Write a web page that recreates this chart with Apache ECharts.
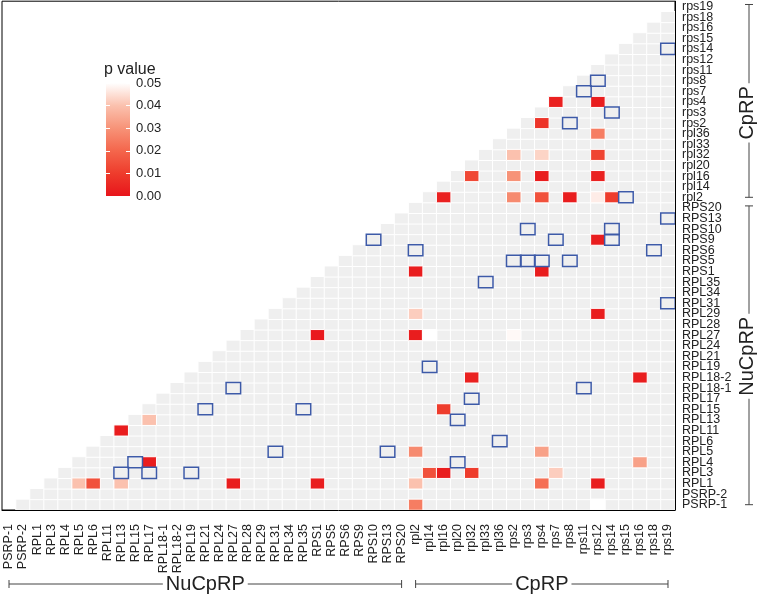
<!DOCTYPE html>
<html><head><meta charset="utf-8">
<script src="https://cdn.jsdelivr.net/npm/echarts@6/dist/echarts.min.js"></script>
<style>html,body{margin:0;padding:0;background:#fff}#c{width:758px;height:594px}</style>
</head><body><div id="c"></div><script>
const FONT = 'Liberation Sans, Arial, sans-serif';
const nuCpRP = ['PSRP-1','PSRP-2','RPL1','RPL3','RPL4','RPL5','RPL6','RPL11','RPL13','RPL15','RPL17','RPL18-1','RPL18-2','RPL19','RPL21','RPL24','RPL27','RPL28','RPL29','RPL31','RPL34','RPL35','RPS1','RPS5','RPS6','RPS9','RPS10','RPS13','RPS20'];
const cpRP = ['rpl2','rpl14','rpl16','rpl20','rpl32','rpl33','rpl36','rps2','rps3','rps4','rps7','rps8','rps11','rps12','rps14','rps15','rps16','rps18','rps19'];
const categories = nuCpRP.concat(cpRP);

// significant pairs: [column, row, p value]
const pValues = [
  ['rps7','rps4',0.003],['rps12','rps4',0.002],
  ['rps4','rps2',0.008],
  ['rps12','rpl36',0.025],
  ['rps2','rpl32',0.040],['rps4','rpl32',0.043],['rps12','rpl32',0.012],
  ['rpl32','rpl16',0.013],['rps2','rpl16',0.030],['rps4','rpl16',0.002],['rps12','rpl16',0.003],
  ['rpl16','rpl2',0.003],['rps2','rpl2',0.028],['rps4','rpl2',0.015],['rps8','rpl2',0.002],['rps12','rpl2',0.047],['rps14','rpl2',0.010],
  ['rps12','RPS9',0.002],
  ['rpl2','RPS1',0.002],['rps4','RPS1',0.002],
  ['rpl2','RPL29',0.042],['rps12','RPL29',0.002],
  ['RPS1','RPL27',0.001],['rpl2','RPL27',0.002],['rpl14','RPL27',0.050],['rps2','RPL27',0.049],
  ['rpl32','RPL18-2',0.003],['rps16','RPL18-2',0.002],
  ['rpl16','RPL15',0.010],
  ['RPL17','RPL13',0.040],
  ['RPL13','RPL11',0.002],
  ['rpl2','RPL5',0.028],['rps4','RPL5',0.033],
  ['RPL17','RPL4',0.002],['rps16','RPL4',0.033],
  ['rpl14','RPL3',0.015],['rpl16','RPL3',0.002],['rpl32','RPL3',0.010],['rps7','RPL3',0.042],
  ['RPL5','RPL1',0.040],['RPL6','RPL1',0.015],['RPL13','RPL1',0.040],['RPL27','RPL1',0.002],['RPS1','RPL1',0.002],['rpl2','RPL1',0.040],['rps4','RPL1',0.022],['rps12','RPL1',0.002],
  ['rpl2','PSRP-1',0.025],['rps12','PSRP-1',0.050]
];

// outlined pairs: [column, row]
const blueBoxes = [
  ['rps19','rps14'],['rps12','rps8'],['rps11','rps7'],['rps14','rps3'],['rps8','rps2'],['rps15','rpl2'],
  ['rps19','RPS13'],['rps3','RPS10'],['rps14','RPS10'],['RPS10','RPS9'],['rps7','RPS9'],['rps14','RPS9'],
  ['rpl2','RPS6'],['rps18','RPS6'],['rps2','RPS5'],['rps3','RPS5'],['rps4','RPS5'],['rps8','RPS5'],
  ['rpl33','RPL35'],['rps19','RPL31'],['rpl14','RPL19'],['RPL27','RPL18-1'],['rps11','RPL18-1'],
  ['rpl32','RPL17'],['RPL21','RPL15'],['RPL35','RPL15'],['rpl20','RPL13'],['rpl36','RPL6'],
  ['RPL31','RPL5'],['RPS13','RPL5'],['RPL15','RPL4'],['rpl20','RPL4'],
  ['RPL13','RPL3'],['RPL17','RPL3'],['RPL19','RPL3']
];

const pTicks = [0, 0.01, 0.02, 0.03, 0.04, 0.05];
const pColors = ['#e8151b', '#ee3c2c', '#f4664c', '#f79378', '#fbc1ae', '#ffffff'];

const idx = n => categories.indexOf(n);
const bgCells = [];
for (let j = 0; j < categories.length; j++)
  for (let i = 0; i < j; i++) bgCells.push([j, i, 0]);
const pCells = pValues.map(d => [idx(d[0]), idx(d[1]), d[2]]);
const boxCells = blueBoxes.map(d => [idx(d[0]), idx(d[1]), 1]);

const chart = echarts.init(document.getElementById('c'), null, {renderer: 'canvas'});
const gradStops = pTicks.map((t, k) => ({offset: k / (pTicks.length - 1), color: pColors[pColors.length - 1 - k]}));

chart.setOption({
  animation: false,
  textStyle: {fontFamily: FONT},
  title: {text: 'p value', left: 104, top: 62, padding: 0,
    textStyle: {fontSize: 16, fontWeight: 'normal', color: '#222', fontFamily: FONT}},
  grid: [
    {left: 2, top: 1, right: 83, bottom: 84, show: true, borderColor: '#000', borderWidth: 1, backgroundColor: 'transparent'},
    {left: 106, top: 83, width: 24, height: 113}
  ],
  xAxis: [
    {type: 'category', data: categories, gridIndex: 0,
      axisLine: {lineStyle: {color: '#000', width: 1}},
      axisTick: {alignWithLabel: true, length: 5, lineStyle: {color: '#000'}},
      axisLabel: {rotate: 90, interval: 0, fontSize: 12.5, color: '#222', margin: 14, fontFamily: FONT},
      splitLine: {show: false}, z: 10},
    {type: 'category', data: [''], gridIndex: 1, show: false}
  ],
  yAxis: [
    {type: 'category', data: categories, gridIndex: 0, position: 'right',
      axisLine: {lineStyle: {color: '#000', width: 1}},
      axisTick: {alignWithLabel: true, length: 5, lineStyle: {color: '#000'}},
      axisLabel: {interval: 0, fontSize: 12.5, color: '#222', margin: 7, fontFamily: FONT},
      splitLine: {show: false}, z: 10},
    {type: 'value', gridIndex: 1, min: 0, max: 0.05, interval: 0.01, position: 'right',
      axisLine: {show: false},
      axisTick: {show: true, inside: true, length: 4, lineStyle: {color: '#fff', width: 1}},
      axisLabel: {formatter: v => v.toFixed(2), fontSize: 13, color: '#222', margin: 6, fontFamily: FONT},
      splitLine: {show: false}, z: 10},
    {type: 'value', gridIndex: 1, min: 0, max: 0.05, interval: 0.01, position: 'left',
      axisLine: {show: false},
      axisTick: {show: true, inside: true, length: 4, lineStyle: {color: '#fff', width: 1}},
      axisLabel: {show: false}, splitLine: {show: false}, z: 10}
  ],
  visualMap: {type: 'continuous', seriesIndex: 1, dimension: 2, min: 0, max: 0.05, show: false,
    inRange: {color: pColors}},
  series: [
    {type: 'heatmap', xAxisIndex: 0, yAxisIndex: 0, data: bgCells, silent: true,
      itemStyle: {color: '#efefef', borderColor: '#ffffff', borderWidth: 1}},
    {type: 'heatmap', xAxisIndex: 0, yAxisIndex: 0, data: pCells, silent: true,
      itemStyle: {borderColor: '#ffffff', borderWidth: 1}},
    {type: 'heatmap', xAxisIndex: 0, yAxisIndex: 0, data: boxCells, silent: true,
      itemStyle: {color: 'rgba(0,0,0,0)', borderColor: '#3d5aa8', borderWidth: 1.5}},
    {type: 'bar', xAxisIndex: 1, yAxisIndex: 1, data: [pTicks[pTicks.length - 1]], barWidth: '100%', silent: true,
      itemStyle: {color: new echarts.graphic.LinearGradient(0, 0, 0, 1, gradStops)}}
  ]
});

// group brackets positioned through the axes
function px(name) { return chart.convertToPixel({xAxisIndex: 0}, name); }
function py(name) { return chart.convertToPixel({yAxisIndex: 0}, name); }
const groups = [
  {label: 'NuCpRP', first: nuCpRP[0], last: nuCpRP[nuCpRP.length - 1]},
  {label: 'CpRP', first: cpRP[0], last: cpRP[cpRP.length - 1]}
];
const g = [];
const lineStyle = {stroke: '#444', lineWidth: 1};
const hy = 584, vx = 749, cap = 4;
groups.forEach(gr => {
  const x1 = px(gr.first), x2 = px(gr.last);
  g.push({type: 'line', shape: {x1: x1, y1: hy, x2: x2, y2: hy}, style: lineStyle, silent: true});
  g.push({type: 'line', shape: {x1: x1, y1: hy - cap, x2: x1, y2: hy + cap}, style: lineStyle, silent: true});
  g.push({type: 'line', shape: {x1: x2, y1: hy - cap, x2: x2, y2: hy + cap}, style: lineStyle, silent: true});
  g.push({type: 'text', x: (x1 + x2) / 2, y: hy, silent: true, z: 100,
    style: {text: gr.label, x: 0, y: 0, align: 'center', verticalAlign: 'middle', font: '20px ' + FONT,
      fill: '#222', backgroundColor: '#fff', padding: [0, 3]}});
  const y1 = py(gr.last), y2 = py(gr.first);
  g.push({type: 'line', shape: {x1: vx, y1: y1 - 2, x2: vx, y2: y2}, style: lineStyle, silent: true});
  g.push({type: 'line', shape: {x1: vx - cap, y1: y1 - 2, x2: vx + cap, y2: y1 - 2}, style: lineStyle, silent: true});
  g.push({type: 'line', shape: {x1: vx - cap, y1: y2, x2: vx + cap, y2: y2}, style: lineStyle, silent: true});
  const cy = gr.label === 'CpRP' ? (y1 + y2) / 2 + 11 : (y1 + y2) / 2;
  g.push({type: 'text', x: vx - 2, y: cy, rotation: Math.PI / 2, silent: true, z: 100,
    style: {text: gr.label, x: 0, y: 0, align: 'center', verticalAlign: 'middle', font: '20px ' + FONT,
      fill: '#222', backgroundColor: '#fff', padding: [0, 3]}});
});
chart.setOption({graphic: g});
</script></body></html>
